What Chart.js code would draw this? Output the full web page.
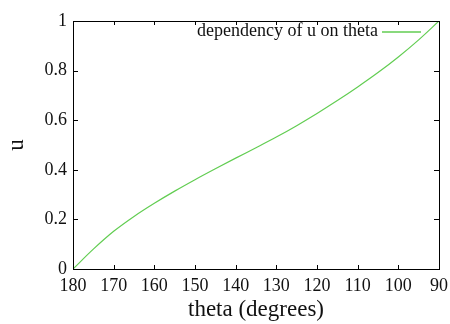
<!DOCTYPE html>
<html>
<head>
<meta charset="utf-8">
<script src="https://cdn.jsdelivr.net/npm/chart.js@4.4.1/dist/chart.umd.min.js"></script>
<style>
    html, body { margin: 0; padding: 0; background: #fff; }
    #wrap { width: 450px; height: 324px; }
</style>
</head>
<body>
<div id="wrap"><canvas id="chart" width="450" height="324"></canvas></div>
<script>
// values
const thetaDeg = [180, 175, 170, 165, 160, 155, 150, 145, 140, 135, 130, 125, 120, 115, 110, 105, 100, 95, 90];
const uValues = [0, 0.08, 0.152, 0.212, 0.265, 0.314, 0.36, 0.404, 0.447, 0.489, 0.532, 0.578, 0.627, 0.679, 0.734, 0.792, 0.855, 0.924, 1];
const xTicks = [180, 170, 160, 150, 140, 130, 120, 110, 100, 90];
const yTicks = [0, 0.2, 0.4, 0.6, 0.8, 1];
const seriesLabel = 'dependency of u on theta';

const serif = "'Liberation Serif', 'Times New Roman', serif";
const lineColor = 'rgb(98, 205, 82)';

// gnuplot-like frame: box on all four sides, ticks pointing inward
const framePlugin = {
    id: 'frame',
    afterDraw(chart) {
        const ctx = chart.ctx;
        const a = chart.chartArea;
        const xs = chart.scales.x;
        const ys = chart.scales.y;
        ctx.save();
        ctx.strokeStyle = '#000';
        ctx.lineWidth = 1;
        ctx.beginPath();
        xTicks.forEach(v => {
            const px = Math.round(xs.getPixelForValue(v)) + 0.5;
            ctx.moveTo(px, a.bottom);
            ctx.lineTo(px, a.bottom - 4);
            ctx.moveTo(px, a.top);
            ctx.lineTo(px, a.top + 4);
        });
        yTicks.forEach(v => {
            const py = Math.round(ys.getPixelForValue(v)) + 0.5;
            ctx.moveTo(a.left, py);
            ctx.lineTo(a.left + 5, py);
            ctx.moveTo(a.right, py);
            ctx.lineTo(a.right - 5, py);
        });
        ctx.stroke();
        ctx.strokeRect(Math.round(a.left) + 0.5, Math.round(a.top) + 0.5,
            Math.round(a.right - a.left), Math.round(a.bottom - a.top));

        // key in the top right corner: text then line sample
        ctx.font = '18px ' + serif;
        ctx.fillStyle = '#111';
        ctx.textAlign = 'right';
        ctx.textBaseline = 'alphabetic';
        ctx.fillText(chart.data.datasets[0].label, 378, 36);
        ctx.strokeStyle = lineColor;
        ctx.lineWidth = 1.5;
        ctx.beginPath();
        ctx.moveTo(382, 32);
        ctx.lineTo(421, 32);
        ctx.stroke();
        ctx.restore();
    }
};

const points = thetaDeg.map((t, i) => ({ x: t, y: uValues[i] }));

new Chart(document.getElementById('chart'), {
    type: 'line',
    data: {
        datasets: [{
            label: seriesLabel,
            data: points,
            borderColor: lineColor,
            borderWidth: 1.2,
            pointRadius: 0,
            fill: false,
            tension: 0.4,
            cubicInterpolationMode: 'monotone'
        }]
    },
    options: {
        responsive: false,
        animation: false,
        layout: { padding: { left: 0, top: 21, right: 11, bottom: 0 } },
        plugins: {
            legend: { display: false },
            tooltip: { enabled: false }
        },
        scales: {
            x: {
                type: 'linear',
                reverse: true,
                min: 90,
                max: 180,
                grid: { display: false, drawTicks: false },
                border: { display: false },
                afterBuildTicks: s => { s.ticks = xTicks.map(v => ({ value: v })); },
                afterFit: s => { s.height = 55; s.paddingLeft = 0; s.paddingRight = 0; },
                ticks: {
                    padding: 6,
                    maxRotation: 0,
                    color: '#111',
                    font: { family: serif, size: 18 },
                    callback: v => String(v)
                },
                title: {
                    display: true,
                    text: 'theta (degrees)',
                    color: '#111',
                    padding: 0,
                    font: { family: serif, size: 23 }
                }
            },
            y: {
                min: 0,
                max: 1,
                grid: { display: false, drawTicks: false },
                border: { display: false },
                afterBuildTicks: s => { s.ticks = yTicks.map(v => ({ value: v })); },
                afterFit: s => { s.width = 73; s.paddingTop = 0; s.paddingBottom = 0; },
                ticks: {
                    padding: 6,
                    color: '#111',
                    font: { family: serif, size: 18 },
                    callback: v => String(v)
                },
                title: {
                    display: true,
                    text: 'u',
                    color: '#111',
                    padding: { top: 3, bottom: 0 },
                    font: { family: serif, size: 23 }
                }
            }
        }
    },
    plugins: [framePlugin]
});
</script>
</body>
</html>
